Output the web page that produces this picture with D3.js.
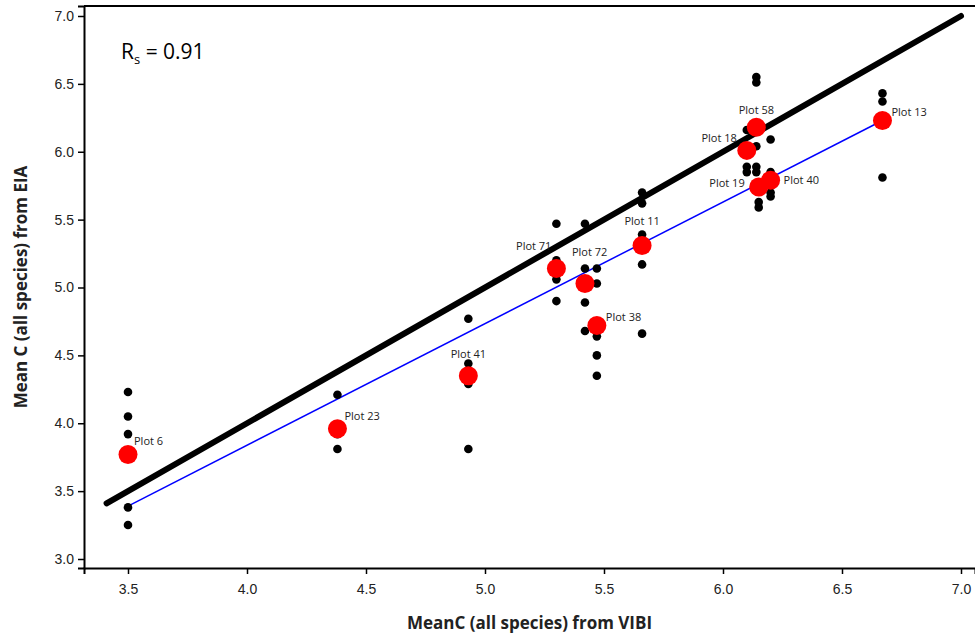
<!DOCTYPE html>
<html>
  <head>
    <title>Mean C: VIBI vs EIA</title>
    <script src="https://cdn.jsdelivr.net/npm/d3@7"></script>
    <style type="text/css">

body {
  margin: 0;
  background: #fff;
  font-family: "Open Sans", "Noto Sans", sans-serif;
}

.tick text {
  font-size: 14px;
  fill: #222;
}

    </style>
  </head>
  <body>
    <script type="text/javascript">

// plot means (red)
var plotNames = ["Plot 6", "Plot 23", "Plot 41", "Plot 71", "Plot 72", "Plot 38",
                 "Plot 11", "Plot 58", "Plot 18", "Plot 19", "Plot 40", "Plot 13"],
    plotVibi = [3.50, 4.38, 4.93, 5.30, 5.42, 5.47, 5.66, 6.14, 6.10, 6.15, 6.20, 6.67],
    plotEia  = [3.77, 3.96, 4.35, 5.14, 5.03, 4.72, 5.31, 6.18, 6.01, 5.74, 5.79, 6.23];

// individual EIA observations (black)
var obsVibi = [3.50, 3.50, 3.50, 3.50, 3.50,
               4.38, 4.38, 4.38,
               4.93, 4.93, 4.93, 4.93,
               5.30, 5.30, 5.30, 5.30,
               5.42, 5.42, 5.42, 5.42,
               5.47, 5.47, 5.47, 5.47, 5.47,
               5.66, 5.66, 5.66, 5.66, 5.66,
               6.10, 6.10, 6.10,
               6.14, 6.14, 6.14, 6.14, 6.14, 6.15, 6.15,
               6.20, 6.20, 6.20, 6.20,
               6.67, 6.67, 6.67],
    obsEia  = [4.23, 4.05, 3.92, 3.38, 3.25,
               4.21, 3.92, 3.81,
               4.77, 4.44, 4.29, 3.81,
               5.47, 5.20, 5.06, 4.90,
               5.47, 5.14, 4.89, 4.68,
               5.14, 5.03, 4.64, 4.50, 4.35,
               5.70, 5.62, 5.39, 5.17, 4.66,
               6.16, 5.89, 5.85,
               6.55, 6.51, 6.04, 5.89, 5.85, 5.63, 5.59,
               6.09, 5.85, 5.70, 5.67,
               6.43, 6.37, 5.81];

var xTicks = [3.5, 4.0, 4.5, 5.0, 5.5, 6.0, 6.5, 7.0],
    yTicks = [3.0, 3.5, 4.0, 4.5, 5.0, 5.5, 6.0, 6.5, 7.0];

var oneToOne = [3.41, 7.0],
    fitLine = {x: [3.50, 6.67], y: [3.39, 6.23]},
    rs = "0.91";

// label placement relative to each red point: [dx, dy, anchor]
var labelPos = [[6, -9, "start"], [7, -9, "start"], [0, -18, "middle"], [-5, -18, "end"],
                [-13, -27, "start"], [9, -5, "start"], [0, -20, "middle"], [0, -13, "middle"],
                [-10, -8, "end"], [-14, 0, "end"], [13, 4, "start"], [9, -5, "start"]];

var w = 975,
    h = 638,
    m = {top: 6, right: 0, bottom: 70, left: 84};

var x = d3.scaleLinear()
    .domain([3.5 - 44 / 238, 7.0 + 14 / 238])
    .range([m.left, w - m.right]);

var y = d3.scaleLinear()
    .domain([3.0 - 9 / 135.75, 7.0 + 10 / 135.75])
    .range([h - m.bottom, m.top]);

var svg = d3.select("body")
  .append("svg")
    .attr("width", w)
    .attr("height", h);

// axes
svg.append("g")
    .attr("transform", "translate(0," + y.range()[0] + ")")
    .call(d3.axisBottom(x).tickValues(xTicks).tickFormat(d3.format(".1f")).tickSize(6).tickPadding(10))
    .call(function(g) { g.select(".domain").attr("stroke-width", 2); })
    .call(function(g) { g.selectAll(".tick line").attr("stroke-width", 1.5); });

svg.append("g")
    .attr("transform", "translate(" + m.left + ",0)")
    .call(d3.axisLeft(y).tickValues(yTicks).tickFormat(d3.format(".1f")).tickSize(6).tickPadding(4))
    .call(function(g) { g.select(".domain").attr("stroke-width", 2); })
    .call(function(g) { g.selectAll(".tick line").attr("stroke-width", 1.5); });

// top frame line
svg.append("line")
    .attr("x1", m.left)
    .attr("x2", w)
    .attr("y1", y.range()[1])
    .attr("y2", y.range()[1])
    .attr("stroke", "#000")
    .attr("stroke-width", 2);

// 1:1 line
svg.append("line")
    .attr("x1", x(oneToOne[0]))
    .attr("y1", y(oneToOne[0]))
    .attr("x2", x(oneToOne[1]))
    .attr("y2", y(oneToOne[1]))
    .attr("stroke", "#000")
    .attr("stroke-width", 6)
    .attr("stroke-linecap", "round");

// fitted line
svg.append("line")
    .attr("x1", x(fitLine.x[0]))
    .attr("y1", y(fitLine.y[0]))
    .attr("x2", x(fitLine.x[1]))
    .attr("y2", y(fitLine.y[1]))
    .attr("stroke", "#0000ff")
    .attr("stroke-width", 1.5);

// observations
svg.append("g")
  .selectAll("circle")
    .data(d3.range(obsVibi.length))
  .enter().append("circle")
    .attr("cx", function(i) { return x(obsVibi[i]); })
    .attr("cy", function(i) { return y(obsEia[i]); })
    .attr("r", 4.3)
    .attr("fill", "#000");

// plot means
svg.append("g")
  .selectAll("circle")
    .data(d3.range(plotNames.length))
  .enter().append("circle")
    .attr("cx", function(i) { return x(plotVibi[i]); })
    .attr("cy", function(i) { return y(plotEia[i]); })
    .attr("r", 9.5)
    .attr("fill", "#ff0000");

svg.append("g")
  .selectAll("text")
    .data(d3.range(plotNames.length))
  .enter().append("text")
    .attr("x", function(i) { return x(plotVibi[i]) + labelPos[i][0]; })
    .attr("y", function(i) { return y(plotEia[i]) + labelPos[i][1]; })
    .attr("text-anchor", function(i) { return labelPos[i][2]; })
    .attr("font-size", 11)
    .attr("fill", "#222")
    .text(function(i) { return plotNames[i]; });

// Spearman label
var rl = svg.append("text")
    .attr("x", 121)
    .attr("y", 59)
    .attr("font-size", 21)
    .attr("fill", "#000");
rl.append("tspan").text("R");
rl.append("tspan").attr("font-size", 13).attr("dy", 5).text("s");
rl.append("tspan").attr("dy", -5).text(" = " + rs);

// axis titles
svg.append("text")
    .attr("x", (m.left + w) / 2)
    .attr("y", 629)
    .attr("text-anchor", "middle")
    .attr("font-size", 17)
    .attr("font-weight", "bold")
    .attr("fill", "#222")
    .text("MeanC (all species) from VIBI");

svg.append("text")
    .attr("transform", "translate(27," + (y.range()[0] + y.range()[1]) / 2 + ") rotate(-90)")
    .attr("text-anchor", "middle")
    .attr("font-size", 17)
    .attr("font-weight", "bold")
    .attr("fill", "#222")
    .text("Mean C (all species) from EIA");

    </script>
  </body>
</html>
